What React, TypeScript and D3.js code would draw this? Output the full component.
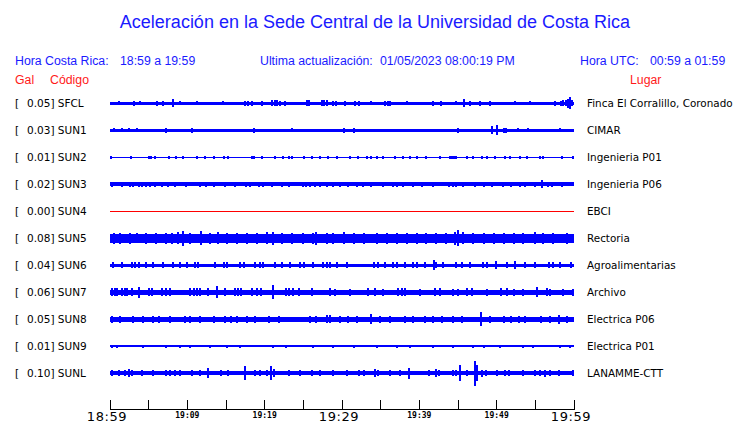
import React from "react";
import * as d3 from "d3";

const codes = ["SFCL", "SUN1", "SUN2", "SUN3", "SUN4", "SUN5", "SUN6", "SUN7", "SUN8", "SUN9", "SUNL"];
const pga = ["0.05", "0.03", "0.01", "0.02", "0.00", "0.08", "0.04", "0.06", "0.05", "0.01", "0.10"];
const places = ["Finca El Corralillo, Coronado", "CIMAR", "Ingenieria P01", "Ingenieria P06", "EBCI", "Rectoria", "Agroalimentarias", "Archivo", "Electrica P06", "Electrica P01", "LANAMME-CTT"];
const tickMinutes = [0, 5, 10, 15, 20, 25, 30, 35, 40, 45, 50, 55, 60];
const tickLabels: Record<number, string> = { 0: "18:59", 10: "19:09", 20: "19:19", 30: "19:29", 40: "19:39", 50: "19:49", 60: "19:59" };
const bigLabels = [0, 30, 60];

// baseline half-amplitude of each trace (trace units)
const baseAmp = [1.6, 1.6, 0.7, 1.8, 0.5, 4.6, 1.7, 2.4, 2.6, 1.0, 2.0];

// [minute, half-amplitude] bursts
const sfcl = [[1.1,2.2],[3.1,2.3],[3.9,2.2],[6.1,2.3],[6.8,2.3],[8.2,4],[9.1,2.2],[11.2,2.2],[14.6,2.2],[17.5,2.4],[17.9,2.5],[18.4,2.6],[19.7,2.4],[21.0,2.8],[21.3,3],[21.6,2.8],[22.0,2.5],[22.6,2.5],[25.5,2.8],[25.7,3],[27.4,3],[27.7,2.8],[28.0,2.8],[28.9,2.5],[29.2,2.5],[30.4,2.3],[31.7,2.5],[32.2,2.5],[33.8,2.2],[35.6,2.6],[35.9,2.6],[36.2,2.6],[38.4,2.2],[41.8,2.3],[42.8,2.3],[44.8,2.2],[45.8,4],[46.6,2.3],[47.8,2.3],[49.2,2.3],[52.4,2.2],[54.3,2.2],[57.5,2.4],[58.3,2.5],[58.6,2.8],[59.0,3.2],[59.2,4.5],[59.5,6],[59.8,3.2]];
const sun1 = [[0.5,1.9],[1.5,1.9],[2.5,1.9],[3.5,1.9],[7.3,2.7],[10.6,2.4],[18.6,2.3],[23.5,2.1],[30.2,2.3],[31.5,2.3],[45,2.3],[49.4,3.8],[50.1,4.8],[50.9,2.7],[51.2,2.7],[52.8,2.1],[54.1,2.1],[58.2,2.1]];
const sun2 = [[0.1,1.4],[2.7,1.4],[5.0,1.4],[5.3,1.4],[5.8,1.4],[7.6,1.4],[8.5,1.4],[9.5,1.4],[11.2,1.4],[12.3,1.4],[13.4,1.4],[14.7,1.4],[15.3,1.4],[18.3,1.4],[18.6,1.4],[19.7,1.4],[21.3,1.4],[22.4,1.4],[23.1,1.4],[23.5,1.4],[25.1,1.4],[26.1,1.4],[27.2,1.4],[28.2,1.4],[29.3,1.4],[31.0,1.4],[32.1,1.4],[33.2,1.4],[33.8,1.4],[34.5,1.4],[35.3,1.4],[36.8,1.4],[37.9,1.4],[38.8,1.4],[39.7,1.4],[40.9,1.4],[42.7,1.4],[44.0,1.6],[44.2,1.6],[44.4,1.6],[44.6,1.6],[44.8,1.6],[46.1,1.4],[47.0,1.4],[48.1,1.4],[48.7,1.4],[49.8,1.4],[51.1,1.4],[51.7,1.4],[53.0,1.4],[53.9,1.4],[55.6,1.4],[56.0,1.4],[58.4,1.4],[59.9,1.4]];
const sun3 = [[0.2,2.7],[1.5,2.7],[2.6,2.7],[3.0,2.7],[3.8,2.7],[4.2,2.7],[4.7,2.7],[5.2,2.7],[5.8,2.7],[6.7,2.7],[7.5,2.7],[8.4,2.7],[9.8,2.7],[11.6,2.7],[12.4,2.7],[13.4,2.7],[14.9,2.7],[16.2,2.7],[17.6,2.7],[18.1,2.7],[19.3,2.7],[19.8,2.7],[20.9,2.7],[22.2,2.7],[23.1,2.7],[24.9,2.7],[25.4,2.7],[25.9,2.7],[26.5,2.7],[27.1,2.7],[28.0,2.7],[28.9,2.7],[29.7,2.7],[30.8,2.7],[32.0,2.7],[32.7,2.7],[33.8,2.7],[35.3,2.7],[36.6,2.7],[37.1,2.7],[37.9,2.7],[39.2,2.7],[40.3,2.7],[41.8,2.7],[43.9,2.7],[44.3,2.7],[44.7,2.7],[45.7,2.7],[47.2,2.7],[48.3,2.7],[49.4,2.7],[50.8,2.7],[51.9,2.7],[53.0,2.7],[53.7,2.7],[55.0,2.7],[55.8,4],[56.6,2.7],[57.1,2.7],[58.4,2.7]];
const sun4: number[][] = [];
const sun5 = [[0.5,5.5],[1.3,5.5],[2.6,5.5],[3.5,5.2],[4.7,5.5],[6.0,5.5],[7.3,5.5],[8.0,5.5],[8.8,6],[9.5,7.5],[10.3,5.5],[11.8,7],[12.9,5.5],[14.0,6],[15.1,5.5],[16.4,5.5],[17.7,5.5],[19.0,5.5],[20.3,6],[21.1,6.5],[22.2,5.5],[23.5,5.5],[25.0,5.5],[26.3,5.5],[26.7,6.5],[28.0,5.5],[28.9,5.5],[30.2,6],[31.5,5.5],[32.8,5.5],[34.5,5.5],[35.8,5.5],[37.1,5.5],[38.4,5.5],[39.7,5.5],[40.9,5.5],[42.2,5.5],[43.5,5.5],[44.6,6.5],[45.0,8],[45.7,6],[47.0,5.5],[48.3,5.5],[49.6,5.5],[50.9,5.5],[52.2,5.5],[53.4,5.5],[55.0,6],[56.0,5.5],[57.3,5.5],[59.1,5.5]];
const sun6 = [[0.4,3],[1.5,3],[2.8,3],[3.2,3],[3.8,3],[4.7,3],[5.6,3],[6.9,3],[8.1,3],[9.1,3],[10.0,3],[11.0,3],[11.4,3],[13.6,3],[14.7,3],[15.1,3],[16.8,3],[17.3,3],[18.8,3],[19.4,3],[19.8,3],[21.3,3],[22.2,3],[23.3,3],[24.6,3],[25.1,3],[26.3,3],[27.6,3],[28.0,3],[28.4,3],[29.3,3],[30.6,3],[34.1,3],[34.7,3],[35.6,3],[36.6,3],[37.1,3],[38.1,3],[39.2,3],[39.7,3],[40.7,3],[41.9,5],[42.2,3],[43.1,3],[44.8,3],[45.5,3],[46.6,3],[48.2,3],[48.7,3],[49.9,4],[51.3,3],[52.4,4],[53.7,3],[55.0,3],[56.8,3],[57.3,3],[58.2,3],[59.6,3]];
const sun7 = [[0.2,3.8],[0.6,3.8],[0.9,4.2],[1.5,3.8],[1.9,3.8],[2.2,4.2],[2.8,3.8],[3.7,5.5],[5.0,3.8],[5.4,3.8],[6.7,4],[7.3,4.2],[7.8,3.8],[10.3,4.2],[10.8,3.8],[11.2,3.8],[11.6,4.2],[12.7,3.8],[13.8,6],[14.9,3.8],[16.2,3.8],[16.6,3.8],[17.0,3.8],[18.3,4.2],[19.0,4],[19.5,3.8],[21.1,7],[22.7,3.8],[23.1,4],[23.7,4.2],[24.4,3.8],[26.1,3.8],[28.4,3.8],[29.1,3.3],[31.0,3.3],[33.4,3.8],[34.3,3.8],[35.3,3.3],[37.3,4],[37.7,3.8],[38.1,3.8],[40.1,3.3],[42.0,3.8],[42.7,3.8],[44.4,3.3],[45.0,3.5],[46.1,4.2],[46.8,4],[48.7,3.3],[50.6,3.8],[51.3,3.8],[52.2,3.3],[53.4,3.3],[55.2,5],[56.5,3.8],[56.9,3.6],[58.6,3.3],[59.9,3.3]];
const sun8 = [[0.2,3.5],[1.3,3.5],[3.0,3.5],[4.3,3.5],[5.6,3.5],[6.4,3.5],[7.8,3.5],[9.7,3.5],[10.3,3.5],[11.6,3.5],[13.4,3.5],[14.9,3.5],[15.7,3.5],[16.4,3.5],[17.7,3.5],[18.8,3.5],[20.5,3.5],[21.8,3.5],[25.9,3.5],[26.7,3.5],[28.0,4],[28.4,4],[29.7,3.5],[30.8,3.5],[31.9,3.5],[33.7,5],[34.9,3.5],[36.2,3.5],[38.1,3.5],[39.2,3.5],[40.7,3.5],[41.8,3.5],[42.9,3.5],[44.4,3.5],[45.5,3.5],[48.0,7],[49.1,3.5],[50.9,3.5],[51.9,3.5],[52.9,3.5],[53.7,3.5],[55.7,3.5],[56.9,3.5],[58.1,4.5],[59.1,3.5]];
const sun9 = [[0.2,1.5],[0.9,1.5],[4.3,1.5],[7.3,1.5],[9.1,1.5],[10.3,1.5],[12.9,1.5],[15.1,1.5],[16.8,1.5],[21.1,1.5],[22.8,1.5],[26.3,1.5],[28.9,1.5],[31.5,1.5],[34.5,1.5],[37.1,1.5],[38.8,1.5],[41.8,1.5],[44.4,1.5],[47.0,1.5],[48.3,1.5],[50.4,1.5],[53.4,1.5],[54.7,1.5],[58.2,1.5],[59.5,1.5]];
const sunl = [[0.2,3],[1.1,3],[1.9,3],[2.5,4],[2.8,3],[4.1,2.8],[5.5,3],[7.2,3],[7.8,2.8],[8.4,2.8],[9.1,2.8],[10.6,2.8],[11.6,3],[12.7,5],[14.4,3],[15.3,3],[17.5,7],[18.8,3],[19.4,3],[20.3,3],[20.8,7],[21.2,4],[23.1,2.8],[24.6,2.8],[26.1,2.8],[27.2,2.8],[28.9,2.8],[30.6,2.8],[32.2,3],[32.9,3],[34.3,4],[34.7,3],[36.2,2.8],[37.5,2.8],[38.7,5.5],[41.2,2.8],[42.2,4],[42.6,3],[44.3,3],[44.8,3],[45.3,8],[46.1,3],[47.2,12.3],[47.4,8],[48.1,3.5],[48.6,3],[50.0,2.8],[51.1,3],[51.6,3],[53.4,2.8],[55.0,3],[55.6,3],[56.3,3.5],[56.9,2.8],[58.0,2.8],[59.9,2.8]];
const bursts = [sfcl, sun1, sun2, sun3, sun4, sun5, sun6, sun7, sun8, sun9, sunl];
const traceColors = ["#0000ff", "#0000ff", "#0000ff", "#0000ff", "#ff0000", "#0000ff", "#0000ff", "#0000ff", "#0000ff", "#0000ff", "#0000ff"];

const W = 740, H = 423;

export default function App() {
  const x = d3.scaleLinear().domain([0, 60]).range([110, 574]);
  const y = d3.scalePoint<string>().domain(codes).range([103, 373]);
  const amp = d3.scaleLinear().domain([0, 10]).range([0, 10]);
  const blue = "#1a1aff";
  const sans = "'Liberation Sans', Arial, sans-serif";
  const dv = "'DejaVu Sans', sans-serif";
  return (
    <div style={{ position: "fixed", left: 0, top: 0 }}>
      <svg width={W} height={H} style={{ display: "block", background: "#fff" }}>
        <text x={375} y={28} textAnchor="middle" fontFamily={sans} fontSize={18} fill={blue}>
          Aceleración en la Sede Central de la Universidad de Costa Rica
        </text>
        <g fontFamily={sans} fontSize={12.3} fill={blue}>
          <text x={15} y={65}>Hora Costa Rica:</text>
          <text x={120} y={65}>18:59 a 19:59</text>
          <text x={260} y={65}>Ultima actualización:</text>
          <text x={380} y={65}>01/05/2023 08:00:19 PM</text>
          <text x={580} y={65}>Hora UTC:</text>
          <text x={650} y={65}>00:59 a 01:59</text>
        </g>
        <g fontFamily={sans} fontSize={12.3} fill="#ff1a1a">
          <text x={15} y={84}>Gal</text>
          <text x={50} y={84}>Código</text>
          <text x={630} y={84}>Lugar</text>
        </g>
        {codes.map((c, i) => {
          const cy = y(c)!;
          const b = amp(baseAmp[i]);
          const h = Math.max(1, Math.round(2 * b));
          return (
            <g key={c}>
              <text x={15} y={cy + 4} fontFamily={dv} fontSize={10.5} fill="#000">[</text>
              <text x={27} y={cy + 4} fontFamily={dv} fontSize={10.5} fill="#000">{pga[i]}] {c}</text>
              <text x={587} y={cy + 4} fontFamily={dv} fontSize={10.4} fill="#000">{places[i]}</text>
              <rect x={x(0)} y={Math.round(cy - h / 2)} width={x(60) - x(0)} height={h} fill={traceColors[i]} shapeRendering="crispEdges" />
              {bursts[i].map(([m, a], k) => {
                const ah = Math.round(2 * amp(a));
                return (
                  <rect key={k} x={Math.round(x(m)) - 1} y={Math.round(cy - ah / 2)} width={2} height={ah} fill={traceColors[i]} shapeRendering="crispEdges" />
                );
              })}
            </g>
          );
        })}
        <g stroke="#000" strokeWidth={1} shapeRendering="crispEdges">
          <line x1={x(0)} x2={x(60)} y1={409.5} y2={409.5} />
          {tickMinutes.map((t) => (
            <line key={t} x1={x(t)} x2={x(t)} y1={400} y2={409.5} />
          ))}
        </g>
        {Object.keys(tickLabels).map((k) => {
          const t = +k;
          const big = bigLabels.includes(t);
          return (
            <text key={k} x={x(t) - (big ? 3 : 0)} y={big ? 421 : 418} textAnchor="middle"
              fontFamily={big ? dv : "'DejaVu Sans Mono', monospace"} fontSize={big ? 13 : 8}
              fontWeight={big ? "normal" : "bold"} letterSpacing={big ? 0.6 : 0} fill="#000">
              {tickLabels[t]}
            </text>
          );
        })}
      </svg>
    </div>
  );
}
